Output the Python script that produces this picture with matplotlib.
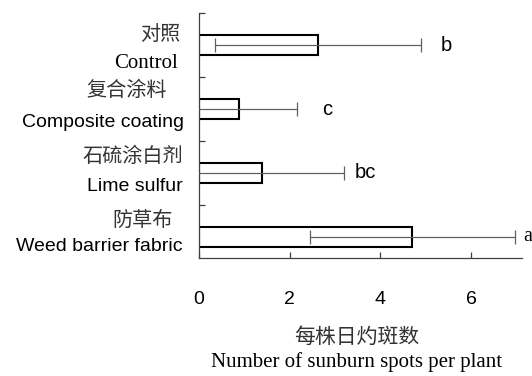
import numpy as np
import matplotlib
matplotlib.use('Agg')
import matplotlib.pyplot as plt

# data
labels_cn = ['对照', '复合涂料', '石硫涂白剂', '防草布']
labels_en = ['Control', 'Composite coating', 'Lime sulfur', 'Weed barrier fabric']
means = [2.62, 0.88, 1.40, 4.70]
errs = [2.27, 1.29, 1.79, 2.26]
letters = ['b', 'c', 'bc', 'a']
xticks = [0, 2, 4, 6]

cjk = ['Noto Sans CJK SC', 'DejaVu Sans']
sans = ['Liberation Sans', 'DejaVu Sans']
serif = ['Liberation Serif', 'DejaVu Serif']
edgecol = '#000000'
errcol = '#606060'
axiscol = '#404040'
cncol = '#333333'

fig = plt.figure(figsize=(5.32, 3.76), dpi=100)
ax = fig.add_axes([0.374, 0.314, 0.607, 0.651])

ypos = np.arange(len(means))[::-1]  # Control on top

ax.barh(ypos, means, height=0.31, color='white', edgecolor=edgecol, linewidth=1.5, zorder=2)
ax.errorbar(means, ypos, xerr=errs, fmt='none', ecolor=errcol, elinewidth=0.9,
            capsize=5, capthick=0.9, zorder=3)

# significance letters
letter_off = [0.45, 0.55, 0.25, 0.2]
letter_font = [sans, sans, sans, serif]
for y, m, e, t, off, fam in zip(ypos, means, errs, letters, letter_off, letter_font):
    ax.text(m + e + off, y, t, family=fam, fontsize=14.5, ha='left', va='center',
            clip_on=False)

ax.set_xlim(0, 7.12)
ax.set_ylim(-0.33, 3.5)
ax.set_xticks(xticks)
ax.set_xticklabels([str(v) for v in xticks], family=sans, fontsize=14)
ax.set_yticks([0.5, 1.5, 2.5, 3.5])
ax.set_yticklabels([])
ax.tick_params(axis='both', direction='in', length=4, width=0.9, color=axiscol)
ax.tick_params(axis='x', pad=24)

for s in ['top', 'right']:
    ax.spines[s].set_visible(False)
for s in ['left', 'bottom']:
    ax.spines[s].set_color(axiscol)
    ax.spines[s].set_linewidth(0.9)

# category labels: Chinese above, English below
cn_dx = [-13.7, -23, -11.5, -18.7]
cn_dy = [8, 13, 12, 12]
en_dx = [-15, -10.8, -12, -11.5]
en_dy = [-13, -10, -10, -7]
en_font = [serif, sans, sans, sans]
for i, y in enumerate(ypos):
    ax.annotate(labels_cn[i], xy=(0, y), xycoords=('axes fraction', 'data'),
                xytext=(cn_dx[i], cn_dy[i]), textcoords='offset points',
                ha='right', va='center', family=cjk, fontsize=14.5, color=cncol)
    ax.annotate(labels_en[i], xy=(0, y), xycoords=('axes fraction', 'data'),
                xytext=(en_dx[i], en_dy[i]), textcoords='offset points',
                ha='right', va='center', family=en_font[i],
                fontsize=14 if en_font[i] is sans else 15)

# x axis title
fig.text(0.671, 0.104, '每株日灼斑数', family=cjk, fontsize=15, ha='center', va='center',
         color=cncol)
fig.text(0.671, 0.037, 'Number of sunburn spots per plant', family=serif, fontsize=15,
         ha='center', va='center')

fig.savefig('out.png', dpi=100, facecolor='white')
